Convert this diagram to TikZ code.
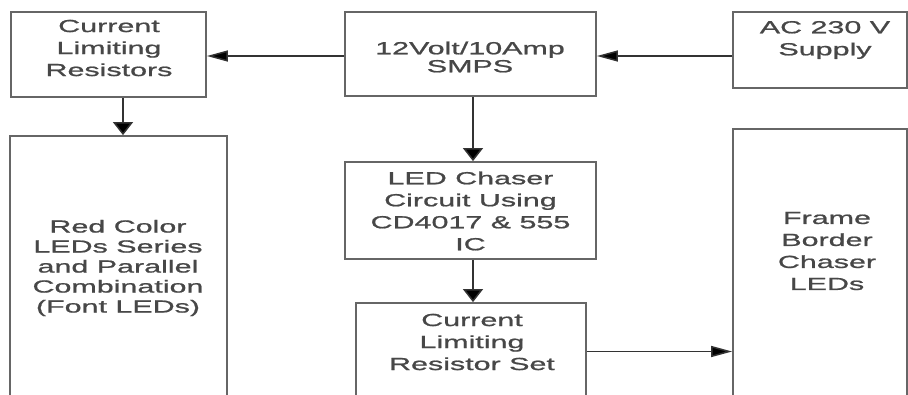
\documentclass[tikz,border=0pt]{standalone}
\usepackage{fontspec}
\setmainfont{Liberation Sans}[FakeStretch=1.74,FakeBold=1.0]
\usetikzlibrary{arrows.meta}
\definecolor{boxgray}{HTML}{666666}
\definecolor{txtgray}{HTML}{474747}
\definecolor{linegray}{HTML}{333333}
\begin{document}
\begin{tikzpicture}[x=1pt,y=-1pt,
  blk/.style={draw=boxgray,line width=1.8pt,inner sep=0pt,fill=white},
  lbl/.style={align=center,text=txtgray,inner sep=0pt,font=\fontsize{17.5pt}{22pt}\selectfont},
  harr/.style={draw=linegray,line width=1.5pt,-{Triangle[length=21pt,width=11pt,fill=black]}},
  varr/.style={draw=linegray,line width=1.5pt,-{Triangle[length=13pt,width=20pt,fill=black]}}]
\useasboundingbox (0,0) rectangle (908,394);
\clip (0,0) rectangle (908,394);
\fill[white] (0,0) rectangle (908,394);
% boxes
\node[blk,minimum width=195pt,minimum height=85pt] (b1) at (108.5,54.5) {};
\node[blk,minimum width=251pt,minimum height=84pt] (b2) at (470.5,54) {};
\node[blk,minimum width=174pt,minimum height=76pt] (b3) at (820,50) {};
\node[blk,minimum width=217pt,minimum height=264pt] (b4) at (118.5,268) {};
\node[blk,minimum width=251pt,minimum height=97pt] (b5) at (470.5,210.5) {};
\node[blk,minimum width=230pt,minimum height=97pt] (b6) at (471,351.5) {};
\node[blk,minimum width=174pt,minimum height=271pt] (b7) at (820,264.5) {};
% labels
\node[lbl] (t1) at (109,48) {Current\\Limiting\\Resistors};
\node[lbl,font=\fontsize{17.5pt}{18pt}\selectfont] (t2) at (470,57) {12Volt/10Amp\\SMPS};
\node[lbl] (t3) at (825,40) {AC 230 V\\Supply};
\node[lbl,font=\fontsize{17.5pt}{20pt}\selectfont] (t4) at (118,268) {Red Color\\LEDs Series\\and Parallel\\Combination\\(Font LEDs)};
\node[lbl] (t5) at (470.5,211) {LED Chaser\\Circuit Using\\CD4017 \& 555\\IC};
\node[lbl] (t6) at (472,342) {Current\\Limiting\\Resistor Set};
\node[lbl] (t7) at (827,251) {Frame\\Border\\Chaser\\LEDs};
% connectors
\draw[harr] ([yshift=-2pt]b2.west) -- ([yshift=-2pt]b2.west -| b1.east);
\draw[harr] ([yshift=-2pt]b3.west |- b2.east) -- ([yshift=-2pt]b2.east);
\draw[varr] ([xshift=14.5pt]b1.south) -- ([xshift=14.5pt]b1.south |- b4.north);
\draw[varr] ([xshift=2.5pt]b2.south) -- ([xshift=2.5pt]b2.south |- b5.north);
\draw[varr] ([xshift=2.5pt]b5.south) -- ([xshift=2.5pt]b5.south |- b6.north);
\draw[harr] (b6.east) -- (b6.east -| b7.west);
\end{tikzpicture}
\end{document}
